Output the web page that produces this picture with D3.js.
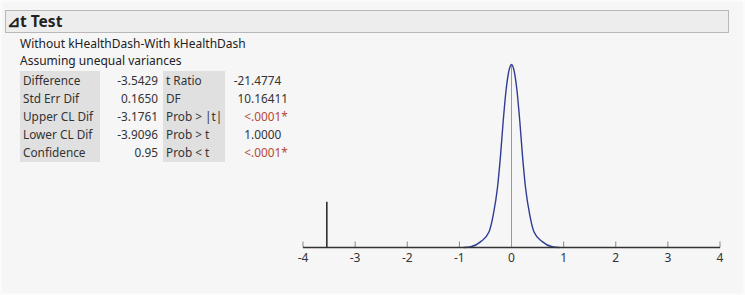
<!DOCTYPE html>
<html>
<head>
<meta charset="utf-8">
<script src="https://cdn.jsdelivr.net/npm/d3@7"></script>
<style>
  body { margin: 0; background: #fbfbfb; }
  text { font-family: "Noto Sans", "Open Sans", sans-serif; }
</style>
</head>
<body>
<script>
// table contents
var leftLabels = ["Difference", "Std Err Dif", "Upper CL Dif", "Lower CL Dif", "Confidence"],
    leftValues = ["-3.5429", "0.1650", "-3.1761", "-3.9096", "0.95"],
    rightLabels = ["t Ratio", "DF", "Prob > |t|", "Prob > t", "Prob < t"],
    rightValues = ["-21.4774", "10.16411", "<.0001*", "1.0000", "<.0001*"],
    rightSignif = [false, false, true, false, true];

// plot data, density relative to the peak
var axisTicks = [-4, -3, -2, -1, 0, 1, 2, 3, 4];
var curveX = [-0.92, -0.78, -0.59, -0.43, -0.35, -0.27, -0.21, -0.16, -0.10, -0.05, 0,
              0.05, 0.10, 0.16, 0.21, 0.27, 0.35, 0.43, 0.59, 0.78, 0.92];
var curveD = [0, 0.004, 0.032, 0.086, 0.178, 0.325, 0.505, 0.687, 0.87, 0.965, 1,
              0.965, 0.87, 0.687, 0.505, 0.325, 0.178, 0.086, 0.032, 0.004, 0];
var estimate = -3.5429,
    estimateHeight = 0.25;

var width = 745, height = 295;

var svg = d3.select("body")
            .append("svg")
            .attr("width", width)
            .attr("height", height);

svg.append("rect")
   .attr("x", 2).attr("y", 2)
   .attr("width", width - 4).attr("height", height - 4)
   .attr("fill", "#f6f6f6");

// header bar
svg.append("rect")
   .attr("x", 5.5).attr("y", 10.5)
   .attr("width", 723).attr("height", 22)
   .attr("fill", "#ededed")
   .attr("stroke", "#b8b8b8");

svg.append("text")
   .attr("x", 7).attr("y", 27)
   .attr("font-size", 15.5).attr("font-weight", "bold")
   .attr("fill", "#222")
   .text("⊿t Test");

svg.append("text")
   .attr("x", 20).attr("y", 48)
   .attr("font-size", 12).attr("fill", "#222")
   .text("Without kHealthDash-With kHealthDash");
svg.append("text")
   .attr("x", 20).attr("y", 65)
   .attr("font-size", 12).attr("fill", "#222")
   .text("Assuming unequal variances");

// table
var tableTop = 71, rowH = 18.2;
svg.append("rect").attr("x", 20).attr("y", tableTop).attr("width", 80).attr("height", rowH * 5).attr("fill", "#e0e0e0");
svg.append("rect").attr("x", 163).attr("y", tableTop).attr("width", 62).attr("height", rowH * 5).attr("fill", "#e0e0e0");

var rows = svg.append("g").attr("font-size", 11.8).attr("fill", "#333");

leftLabels.forEach(function(d, i) {
  var y = tableTop + rowH * i + 13.5;
  rows.append("text").attr("x", 23).attr("y", y).text(d);
  rows.append("text").attr("x", 158).attr("y", y).attr("text-anchor", "end").text(leftValues[i]);
  rows.append("text").attr("x", 166).attr("y", y).text(rightLabels[i]);
  // decimal aligned column
  var v = rightValues[i], k = v.indexOf(".");
  var col = rightSignif[i] ? "#b34a34" : "#333";
  rows.append("text").attr("x", 251).attr("y", y).attr("text-anchor", "end").attr("fill", col).text(v.slice(0, k));
  rows.append("text").attr("x", 251).attr("y", y).attr("fill", col).text(v.slice(k));
});

// plot
var x = d3.scaleLinear().domain([-4, 4]).range([303, 720]),
    y = d3.scaleLinear().domain([0, 1]).range([247.5, 64.5]);

var axis = svg.append("g").attr("transform", "translate(0,247.5)");
axis.selectAll("line.tick")
    .data(axisTicks)
    .enter().append("line")
    .attr("x1", function(d){ return x(d); })
    .attr("x2", function(d){ return x(d); })
    .attr("y1", 0).attr("y2", -6)
    .attr("stroke", "#888");
axis.selectAll("text")
    .data(axisTicks)
    .enter().append("text")
    .attr("x", function(d){ return x(d); })
    .attr("y", 14)
    .attr("text-anchor", "middle")
    .attr("font-size", 12)
    .attr("fill", "#333")
    .text(function(d){ return d; });

svg.append("line")
   .attr("x1", x(0)).attr("x2", x(0))
   .attr("y1", y(0)).attr("y2", y(1))
   .attr("stroke", "#999");

var line = d3.line()
             .x(function(d, i){ return x(curveX[i]); })
             .y(function(d){ return y(d); })
             .curve(d3.curveMonotoneX);

svg.append("path")
   .attr("d", line(curveD))
   .attr("fill", "none")
   .attr("stroke", "#2f3c94")
   .attr("stroke-width", 1.4);

svg.append("line")
   .attr("x1", x(estimate)).attr("x2", x(estimate))
   .attr("y1", y(0)).attr("y2", y(estimateHeight))
   .attr("stroke", "#222")
   .attr("stroke-width", 1.5);

svg.append("line")
   .attr("x1", x(-4)).attr("x2", x(4))
   .attr("y1", y(0)).attr("y2", y(0))
   .attr("stroke", "#333")
   .attr("stroke-width", 1.5);
</script>
</body>
</html>
